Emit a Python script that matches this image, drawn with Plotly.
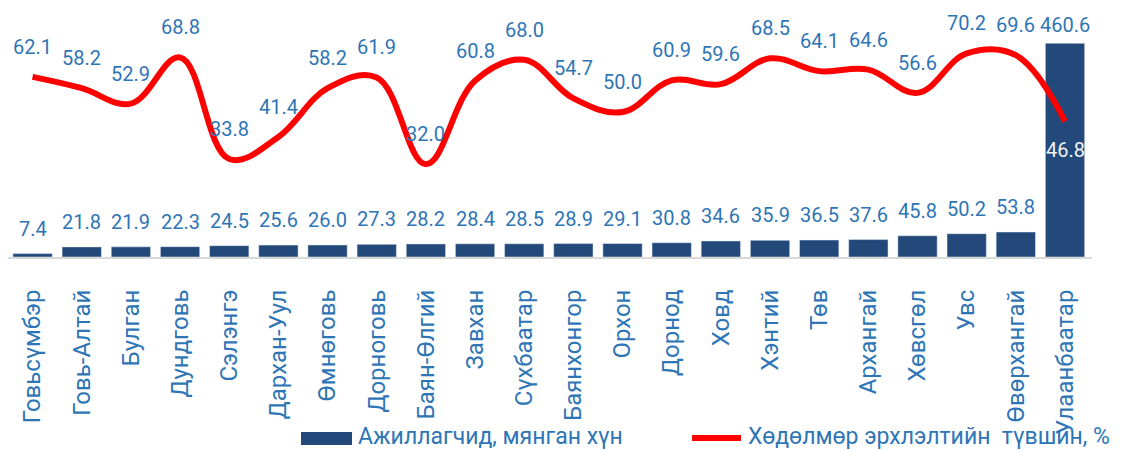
import plotly.graph_objects as go

AIMAGS = ['Говьсүмбэр', 'Говь-Алтай', 'Булган', 'Дундговь', 'Сэлэнгэ', 'Дархан-Уул',
          'Өмнөговь', 'Дорноговь', 'Баян-Өлгий', 'Завхан', 'Сүхбаатар', 'Баянхонгор',
          'Орхон', 'Дорнод', 'Ховд', 'Хэнтий', 'Төв', 'Архангай', 'Хөвсгөл', 'Увс',
          'Өвөрхангай', 'Улаанбаатар']
WORKERS = [7.4, 21.8, 21.9, 22.3, 24.5, 25.6, 26.0, 27.3, 28.2, 28.4, 28.5, 28.9,
           29.1, 30.8, 34.6, 35.9, 36.5, 37.6, 45.8, 50.2, 53.8, 460.6]
EMP_RATE = [62.1, 58.2, 52.9, 68.8, 33.8, 41.4, 58.2, 61.9, 32.0, 60.8, 68.0, 54.7,
            50.0, 60.9, 59.6, 68.5, 64.1, 64.6, 56.6, 70.2, 69.6, 46.8]
BAR_NAME = 'Ажиллагчид, мянган хүн'
LINE_NAME = 'Хөдөлмөр эрхлэлтийн\u00a0 түвшин, %'

BAR_COLOR = '#23497A'
LINE_COLOR = '#FF0000'
TEXT_COLOR = '#2E75B6'
FONT = 'Roboto'
BAR_MAX = 500

# the page body adds an 8px margin, so the figure is 8px smaller than the window
PAGE_OFF = 8
W, H = 1125 - PAGE_OFF, 450 - PAGE_OFF
L, R, T, B = 0, 33, 17, 193
PLOT_H = H - T - B


def px(x):
    # window pixel -> paper x
    return (x - PAGE_OFF - L) / (W - L - R)


def py(y):
    # window pixel -> paper y
    return (PAGE_OFF + H - B - y) / PLOT_H


fig = go.Figure()
fig.add_trace(go.Bar(
    name=BAR_NAME, x=AIMAGS, y=WORKERS,
    marker=dict(color=BAR_COLOR),
))
fig.add_trace(go.Scatter(
    name=LINE_NAME, x=AIMAGS, y=EMP_RATE, yaxis='y2',
    mode='lines',
    line=dict(color=LINE_COLOR, width=6, shape='spline', smoothing=1.1),
))

annotations = []
for name, v in zip(AIMAGS, WORKERS):
    # the tallest bar has no room above it, its label sits at the plot top
    room = PLOT_H * (1 - v / BAR_MAX)
    annotations.append(dict(x=name, y=v, yref='y', text=f'{v:.1f}', showarrow=False,
                            yshift=min(25, room), font=dict(color=TEXT_COLOR, size=20, family=FONT)))
for i, (name, v) in enumerate(zip(AIMAGS, EMP_RATE)):
    last = i == len(AIMAGS) - 1
    annotations.append(dict(x=name, y=v, yref='y2', text=f'{v:.1f}', showarrow=False,
                            yshift=-29 if last else 30,
                            font=dict(color='#F2F2F2' if last else TEXT_COLOR, size=20, family=FONT)))

# hand-made legend (wide bar swatch like the original)
legend_font = dict(color=TEXT_COLOR, size=23, family=FONT)
annotations.append(dict(xref='paper', yref='paper', x=px(356), y=py(436), text=BAR_NAME,
                        xanchor='left', yanchor='middle', showarrow=False, font=legend_font))
annotations.append(dict(xref='paper', yref='paper', x=px(746), y=py(436), text=LINE_NAME,
                        xanchor='left', yanchor='middle', showarrow=False, font=legend_font))
shapes = [
    dict(type='rect', xref='paper', yref='paper', x0=px(301), x1=px(352), y0=py(445), y1=py(432),
         fillcolor=BAR_COLOR, line=dict(width=0)),
    dict(type='line', xref='paper', yref='paper', x0=px(692), x1=px(741), y0=py(438), y1=py(438),
         line=dict(color=LINE_COLOR, width=6), layer='above'),
]

fig.update_layout(
    width=W, height=H,
    margin=dict(l=L, r=R, t=T, b=B),
    paper_bgcolor='white', plot_bgcolor='white',
    font=dict(family=FONT, color=TEXT_COLOR, size=20),
    bargap=0.2,
    showlegend=False,
    xaxis=dict(type='category', tickangle=-90, showline=True, linecolor='#D9D9D9', linewidth=2,
               showgrid=False, ticks='', ticklabelstandoff=21, automargin=False,
               tickfont=dict(size=24, color=TEXT_COLOR, family=FONT)),
    yaxis=dict(range=[0, BAR_MAX], visible=False, showgrid=False, automargin=False),
    yaxis2=dict(range=[0, 80], overlaying='y', visible=False, showgrid=False, automargin=False),
    annotations=annotations,
    shapes=shapes,
)

fig.write_html('out.html')
